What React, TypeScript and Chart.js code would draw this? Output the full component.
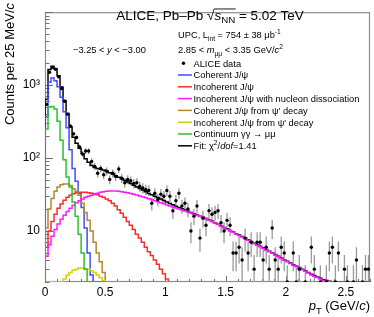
import React, { useEffect, useRef } from 'react';
import { Chart, registerables } from 'chart.js';

Chart.register(...registerables);

const FONT = '"Liberation Sans", Arial, Helvetica, sans-serif';

// ---------------- axes ----------------
const BIN_WIDTH = 0.025; // GeV/c
const X_MIN = 0;
const X_MAX = 2.7;
const Y_MIN = 2;
const Y_MAX = 10000;
const MODEL_END_BIN = 95; // component templates tabulated up to pT = 2.375 GeV/c
const X_MAJOR_TICKS = [0, 0.5, 1, 1.5, 2, 2.5];
const X_TICK_LABELS = ['0', '0.5', '1', '1.5', '2', '2.5'];
const Y_TICK_LABELS: Record<string, string> = { '10': '10', '100': '10²', '1000': '10³' };

// ---------------- data (counts per 25 MeV/c bin, bins from 0 to 2.7 GeV/c) ----------------
const DATA_COUNTS = [
  545, 1500, 1750, 1650, 1300, 900, 600, 400, 274, 215,
  192, 142, 114, 125, 125, 90, 77, 62, 72, 59,
  66, 51, 62, 56, 71, 53, 46, 51, 49, 45,
  46, 41, 39, 37, 36, 24, 33, 27, 32, 30,
  36, 30, 19, 26, 33, 22, 24, 20, 10, 16,
  22, 8, 15, 12, 19, 17, 18, 19, 13, 10,
  14, 12, 5, 5, 6, 4, 8, 5, 7, 3,
  7, 7, 4, 6, 3, 11, 4, 3, 6, 5,
  2, 1, 5, 2, 3, 1, 2, 1, 6, 3,
  1, 2, 1, 2, 5, 6, 2, 5, 1, 3,
  2, 1, 2, 4, 1, 2, 3, 3,
];
const DATA_ERRORS = [
  23.3, 38.7, 41.8, 40.6, 36.1, 30.0, 24.5, 20.0, 16.6, 14.7,
  13.9, 11.9, 10.7, 11.2, 11.2, 9.5, 8.8, 7.9, 8.5, 7.7,
  8.1, 7.1, 7.9, 7.5, 8.4, 7.3, 6.8, 7.1, 7.0, 6.7,
  6.8, 6.4, 6.2, 6.1, 6.0, 4.9, 5.7, 5.2, 5.7, 5.5,
  6.0, 5.5, 4.4, 5.1, 5.7, 4.7, 4.9, 4.5, 3.2, 4.0,
  4.7, 2.8, 3.9, 3.5, 4.4, 4.1, 4.2, 4.4, 3.6, 3.2,
  3.7, 3.5, 2.2, 2.2, 2.4, 2.0, 2.8, 2.2, 2.6, 1.7,
  2.6, 2.6, 2.0, 2.4, 1.7, 3.3, 2.0, 1.7, 2.4, 2.2,
  1.4, 1.0, 2.2, 1.4, 1.7, 1.0, 1.4, 1.0, 2.4, 1.7,
  1.0, 1.4, 1.0, 1.4, 2.2, 2.4, 1.4, 2.2, 1.0, 1.7,
  1.4, 1.0, 1.4, 2.0, 1.0, 1.4, 1.7, 1.7,
];

// ---------------- fit templates (counts per bin; 0 = below the axis floor) ----------------
const FIT_TOTAL = [
  640, 1640, 1810, 1680, 1340, 940, 614, 409, 266, 193,
  160, 136, 115, 98, 87.5, 79.4, 74.2, 72, 70.1, 68.4,
  66.4, 62.8, 60.4, 57.3, 54.5, 52.1, 49.5, 46.9, 44.7, 42.5,
  40.2, 38.3, 36.4, 34.5, 32.8, 31.4, 30, 28.7, 27.4, 26.2,
  25, 23.9, 22.9, 21.9, 21.0, 20.2, 19.4, 18.7, 18.0, 17.3,
  16.6, 15.9, 15.4, 14.8, 14.2, 13.6, 13.0, 12.4, 11.7, 11.2,
  10.7, 10.2, 9.7, 9.2, 8.8, 8.4, 8.0, 7.6, 7.2, 6.8,
  6.5, 6.2, 5.9, 5.6, 5.3, 5.0, 4.75, 4.5, 4.25, 4.05,
  3.85, 3.65, 3.45, 3.3, 3.15, 3.0, 2.85, 2.7, 2.55, 2.45,
  2.35, 2.25, 2.15, 2.1, 2.05, 0, 0, 0, 0, 0,
  0, 0, 0, 0, 0, 0, 0, 0,
];
const COHERENT = [370, 1100, 1250, 1150, 950, 680, 430, 260, 130, 72, 48, 33, 21, 11, 5, 2.5];
const INCOHERENT = [
  6, 10, 13.5, 17, 20.5, 23.5, 26.5, 29, 31, 32.5,
  33.5, 34, 34, 34, 33.5, 33, 32.5, 31.5, 30, 29,
  27.5, 26, 24, 22, 19.5, 17.5, 15.5, 13.5, 12, 10.5,
  9, 8, 7, 6, 5.2, 4.6, 4, 3.5, 3, 2.6,
  2.2,
];
const INCOHERENT_DISS = [
  4.5, 6.5, 8.5, 10.5, 12.5, 14.5, 16.5, 18.5, 20.5, 22.5,
  24.5, 26, 27.5, 29, 30, 31, 32, 33, 34, 34.6,
  35, 35.3, 35.4, 35.3, 35, 34.6, 34, 33.4, 32.7, 32,
  31.2, 30.3, 29.4, 28.5, 27.6, 26.8, 26, 25.2, 24.4, 23.6,
  22.8, 22.1, 21.4, 20.7, 20, 19.4, 18.8, 18.2, 17.6, 17,
  16.4, 15.8, 15.3, 14.7, 14.1, 13.5, 12.9, 12.3, 11.6, 11.1,
  10.6, 10.1, 9.6, 9.1, 8.7, 8.3, 7.9, 7.5, 7.1, 6.7,
  6.4, 6.1, 5.8, 5.5, 5.2, 4.95, 4.7, 4.45, 4.2, 4.0,
  3.8, 3.6, 3.4, 3.25, 3.1, 2.95, 2.8, 2.65, 2.5, 2.4,
  2.3, 2.2, 2.1, 2.05, 2.0, 0, 0, 0, 0, 0,
  0, 0, 0, 0, 0, 0, 0, 0,
];
const COHERENT_PSI2S = [11, 20, 28, 35, 40, 43, 44, 44, 42, 38, 35, 31, 24, 18, 14, 10, 7, 5, 3.8, 2.7, 1.9];
const INCOHERENT_PSI2S = [0, 0, 0, 0, 0, 1.8, 2.2, 2.5, 2.7, 2.9, 3.0, 3.1, 3.1, 3.05, 3.0, 2.85, 2.7, 2.5, 2.3, 2.1, 2.0];
const CONTINUUM = [250, 500, 510, 470, 320, 175, 95, 55, 40, 25, 16, 9, 5, 3, 2];

const COL_COH = '#3f4cff';
const COL_INCOH = '#ff2a2a';
const COL_DISS = '#ff1aff';
const COL_COH_PSI = '#b3862e';
const COL_INCOH_PSI = '#d2d200';
const COL_CONT = '#2fbf2f';
const COL_FIT = '#000000';

type Seg = { t: string; i?: boolean; sub?: boolean; sup?: boolean };

const LEGEND: { label: Seg[]; color?: string; dot?: boolean }[] = [
  { label: [{ t: 'ALICE data' }], dot: true },
  { label: [{ t: 'Coherent J/ψ' }], color: COL_COH },
  { label: [{ t: 'Incoherent J/ψ' }], color: COL_INCOH },
  { label: [{ t: 'Incoherent J/ψ with nucleon dissociation' }], color: COL_DISS },
  { label: [{ t: "Coherent J/ψ from ψ' decay" }], color: COL_COH_PSI },
  { label: [{ t: "Incoherent J/ψ from ψ' decay" }], color: COL_INCOH_PSI },
  { label: [{ t: 'Continuum γγ → μμ' }], color: COL_CONT },
  { label: [{ t: 'Fit: χ' }, { t: '2', sup: true }, { t: '/' }, { t: 'dof', i: true }, { t: '=1.41' }], color: COL_FIT },
];

function histPoints(values: number[], nBins: number) {
  const vals = values.concat(new Array(Math.max(0, nBins - values.length)).fill(0));
  const pts: { x: number; y: number }[] = [{ x: 0, y: Y_MIN }];
  vals.forEach((v, i) => pts.push({ x: i * BIN_WIDTH, y: Math.max(v, Y_MIN) }));
  pts.push({ x: vals.length * BIN_WIDTH, y: Math.max(vals[vals.length - 1], Y_MIN) });
  return pts;
}

function rich(ctx: CanvasRenderingContext2D, segs: Seg[], x: number, y: number, size: number, align: 'left' | 'center' | 'right' = 'left') {
  const parts = segs.map((s) => {
    const fs = s.sub || s.sup ? size * 0.72 : size;
    const font = `${s.i ? 'italic ' : ''}${fs}px ${FONT}`;
    ctx.font = font;
    return { ...s, font, w: ctx.measureText(s.t).width };
  });
  const total = parts.reduce((a, p) => a + p.w, 0);
  let cx = align === 'center' ? x - total / 2 : align === 'right' ? x - total : x;
  const xs: number[] = [];
  ctx.textAlign = 'left';
  ctx.textBaseline = 'alphabetic';
  for (const p of parts) {
    ctx.font = p.font;
    const dy = p.sub ? size * 0.28 : p.sup ? -size * 0.42 : 0;
    ctx.fillText(p.t, cx, y + dy);
    xs.push(cx);
    cx += p.w;
  }
  xs.push(cx);
  return xs;
}

const framePlugin = {
  id: 'rootFrame',
  beforeDatasetsDraw(chart: any) {
    const { ctx, chartArea: a, scales } = chart;
    const xs = scales.x;
    const ys = scales.y;
    ctx.save();
    ctx.strokeStyle = '#8c8c8c';
    ctx.lineWidth = 1.2;
    ctx.strokeRect(a.left + 0.5, a.top + 0.5, a.right - a.left - 1, a.bottom - a.top - 1);
    ctx.strokeStyle = '#707070';
    ctx.lineWidth = 1;
    ctx.beginPath();
    for (let e = 0; e <= 4; e++) {
      for (let m = 1; m <= 9; m++) {
        const v = m * Math.pow(10, e);
        if (v < Y_MIN || v > Y_MAX) continue;
        const py = Math.round(ys.getPixelForValue(v)) + 0.5;
        const len = m === 1 ? 8 : 4.5;
        ctx.moveTo(a.left, py);
        ctx.lineTo(a.left + len, py);
      }
    }
    for (let k = 0; k <= 27; k++) {
      const v = k / 10;
      const px = Math.round(xs.getPixelForValue(v)) + 0.5;
      const len = k % 5 === 0 ? 6 : 3;
      ctx.moveTo(px, a.bottom);
      ctx.lineTo(px, a.bottom - len);
    }
    ctx.stroke();

    // statistical error bars of the data
    ctx.beginPath();
    ctx.rect(a.left, a.top, a.right - a.left, a.bottom - a.top);
    ctx.clip();
    ctx.strokeStyle = '#9a9a9a';
    ctx.lineWidth = 1.3;
    ctx.beginPath();
    DATA_COUNTS.forEach((c, i) => {
      const px = xs.getPixelForValue((i + 0.5) * BIN_WIDTH);
      const hi = c + DATA_ERRORS[i];
      const lo = c - DATA_ERRORS[i];
      const pyHi = ys.getPixelForValue(hi);
      const pyLo = lo > 0 ? ys.getPixelForValue(lo) : a.bottom + 5;
      ctx.moveTo(px, Math.min(pyLo, a.bottom + 5));
      ctx.lineTo(px, pyHi);
    });
    ctx.stroke();
    ctx.restore();
  },
  afterDraw(chart: any) {
    const { ctx } = chart;
    ctx.save();
    ctx.fillStyle = '#000';

    // title
    const ts = 13.5;
    const tx = rich(ctx, [{ t: 'ALICE, Pb–Pb ' }, { t: '√' }, { t: 's', i: true }, { t: 'NN', sub: true }, { t: ' = 5.02 TeV' }], 210, 19.5, ts, 'center');
    ctx.strokeStyle = '#000';
    ctx.lineWidth = 0.9;
    ctx.beginPath();
    ctx.moveTo(tx[2] - 0.5, 19.5 - ts * 0.78);
    ctx.lineTo(tx[4] + 0.5, 19.5 - ts * 0.78);
    ctx.stroke();

    const s = 9.3;
    rich(ctx, [{ t: 'UPC, L' }, { t: 'int', sub: true }, { t: ' = 754 ± 38 μb' }, { t: '-1', sup: true }], 178, 38, s);
    rich(ctx, [{ t: '−3.25 < ' }, { t: 'y', i: true }, { t: ' < −3.00' }], 73, 53, s);
    rich(ctx, [{ t: '2.85 < ' }, { t: 'm', i: true }, { t: 'μμ', sub: true }, { t: ' < 3.35 GeV/' }, { t: 'c', i: true }, { t: '2', sup: true }], 178, 53, s);

    // legend
    LEGEND.forEach((it, k) => {
      const cy = 63.2 + k * 11.8;
      if (it.dot) {
        ctx.fillStyle = '#000';
        ctx.beginPath();
        ctx.arc(183.5, cy, 1.7, 0, Math.PI * 2);
        ctx.fill();
      } else {
        ctx.strokeStyle = it.color!;
        ctx.lineWidth = 1.5;
        ctx.beginPath();
        ctx.moveTo(178, cy);
        ctx.lineTo(192, cy);
        ctx.stroke();
      }
      ctx.fillStyle = '#000';
      rich(ctx, it.label, 193.5, cy + 3.3, s);
    });

    // axis titles
    rich(ctx, [{ t: 'p', i: true }, { t: 'T', sub: true }, { t: ' (GeV/' }, { t: 'c', i: true }, { t: ')' }], 370, 310, 13, 'right');
    ctx.save();
    ctx.translate(13.5, 3);
    ctx.rotate(-Math.PI / 2);
    rich(ctx, [{ t: 'Counts per 25 MeV/' }, { t: 'c', i: true }], 0, 0, 13, 'right');
    ctx.restore();
    ctx.restore();
  },
};

export default function App() {
  const ref = useRef<HTMLCanvasElement | null>(null);
  useEffect(() => {
    document.body.style.margin = '0';
    const canvas = ref.current!;
    const line = (label: string, values: number[], n: number, color: string, order: number) => ({
      label,
      data: histPoints(values, n),
      borderColor: color,
      backgroundColor: color,
      borderWidth: 1.5,
      pointRadius: 0,
      stepped: 'before' as const,
      tension: 0,
      fill: false,
      order,
    });
    const chart = new Chart(canvas, {
      type: 'line',
      data: {
        datasets: [
          {
            label: 'ALICE data',
            data: DATA_COUNTS.map((c, i) => ({ x: (i + 0.5) * BIN_WIDTH, y: c })),
            showLine: false,
            pointRadius: 1.7,
            pointBackgroundColor: '#000',
            pointBorderColor: '#000',
            pointBorderWidth: 0,
            order: 0,
          } as any,
          line('Continuum', CONTINUUM, MODEL_END_BIN, COL_CONT, 1),
          line('Incoherent diss', INCOHERENT_DISS, INCOHERENT_DISS.length, COL_DISS, 2),
          line('Incoherent psi2s', INCOHERENT_PSI2S, MODEL_END_BIN, COL_INCOH_PSI, 3),
          line('Coherent psi2s', COHERENT_PSI2S, MODEL_END_BIN, COL_COH_PSI, 4),
          line('Incoherent', INCOHERENT, MODEL_END_BIN, COL_INCOH, 5),
          line('Coherent', COHERENT, MODEL_END_BIN, COL_COH, 6),
          line('Fit', FIT_TOTAL, FIT_TOTAL.length, COL_FIT, 7),
        ],
      },
      options: {
        animation: false,
        responsive: false,
        devicePixelRatio: 1,
        parsing: false as any,
        normalized: true,
        layout: { padding: { top: 4, right: 4, left: 0, bottom: 0 } },
        plugins: { legend: { display: false }, tooltip: { enabled: false }, title: { display: false } },
        events: [],
        scales: {
          x: {
            type: 'linear',
            min: X_MIN,
            max: X_MAX,
            grid: { display: false, drawTicks: false },
            border: { display: false },
            afterFit: (sc: any) => { sc.height = 35; },
            afterBuildTicks: (sc: any) => { sc.ticks = X_MAJOR_TICKS.map((v) => ({ value: v })); },
            ticks: {
              autoSkip: false,
              maxRotation: 0,
              padding: 3,
              color: '#000',
              font: { family: FONT, size: 12 },
              callback: (v: any) => {
                const k = X_MAJOR_TICKS.findIndex((t) => Math.abs(t - Number(v)) < 1e-6);
                return k >= 0 ? X_TICK_LABELS[k] : '';
              },
            },
          },
          y: {
            type: 'logarithmic',
            min: Y_MIN,
            max: Y_MAX,
            grid: { display: false, drawTicks: false },
            border: { display: false },
            afterFit: (sc: any) => { sc.width = 45; },
            ticks: {
              autoSkip: false,
              padding: 5,
              color: '#000',
              font: { family: FONT, size: 12 },
              callback: (v: any) => Y_TICK_LABELS[String(Math.round(Number(v)))] ?? '',
            },
          },
        },
      },
      plugins: [framePlugin],
    });
    return () => chart.destroy();
  }, []);
  return <canvas ref={ref} width={374} height={317} style={{ display: 'block', width: 374, height: 317 }} />;
}
